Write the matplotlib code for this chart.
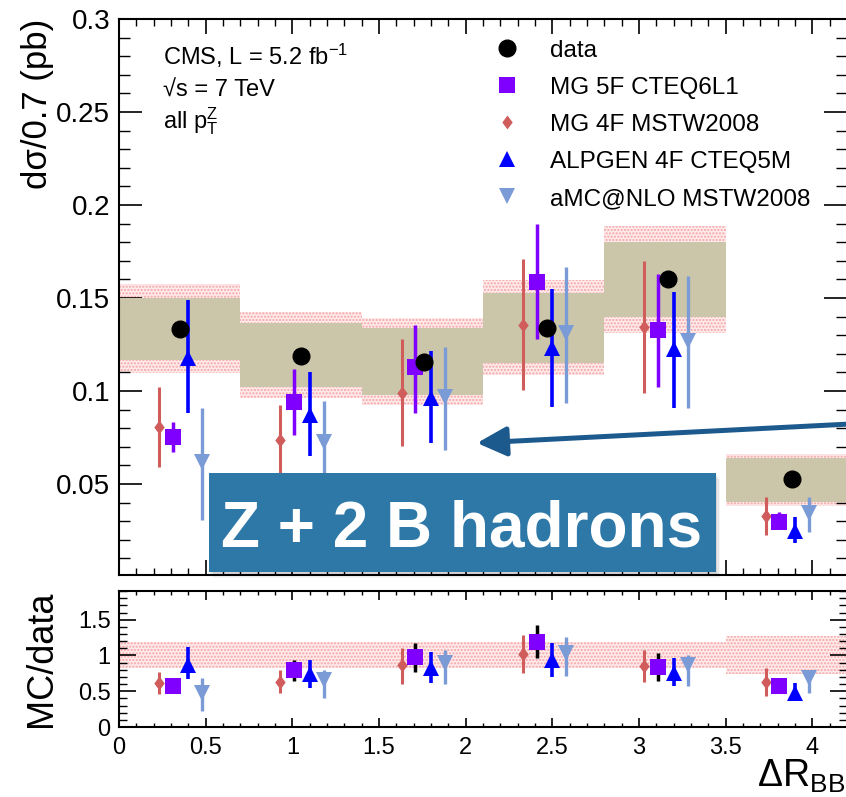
import numpy as np
import matplotlib.pyplot as plt
from matplotlib.lines import Line2D
from matplotlib.patches import Rectangle, FancyArrowPatch, ArrowStyle
from matplotlib.ticker import MultipleLocator, FuncFormatter

plt.rcParams['font.family'] = ['Liberation Sans', 'DejaVu Sans']
plt.rcParams['mathtext.fontset'] = 'custom'
plt.rcParams['mathtext.rm'] = 'Liberation Sans'
plt.rcParams['mathtext.it'] = 'Liberation Sans:italic'
plt.rcParams['mathtext.bf'] = 'Liberation Sans:bold'

# binning in Delta R_BB (bins of 0.7)
bin_edges = [0.0, 0.7, 1.4, 2.1, 2.8, 3.5, 4.2]

# measured cross section
data_x = [0.35, 1.05, 1.76, 2.47, 3.17, 3.88]
data_y = [0.1333, 0.119, 0.1155, 0.134, 0.160, 0.0527]
# inner (beige) and outer (red dotted) uncertainty bands
inner_lo = [0.1167, 0.1022, 0.098, 0.115, 0.1398, 0.0403]
inner_hi = [0.150, 0.1366, 0.134, 0.1527, 0.180, 0.064]
outer_lo = [0.1097, 0.0962, 0.0925, 0.1086, 0.1312, 0.038]
outer_hi = [0.1575, 0.1425, 0.139, 0.1597, 0.1887, 0.0661]

# predictions: value, lower / upper end of the error bar
mg5f_y = [0.0753, 0.094, 0.113, 0.1586, 0.1328, 0.0296]
mg5f_lo = [0.067, 0.0763, 0.088, 0.128, 0.102, 0.026]
mg5f_hi = [0.0833, 0.1118, 0.1355, 0.1898, 0.163, 0.035]

mg4f_y = [0.0806, 0.0737, 0.099, 0.1355, 0.1344, 0.0328]
mg4f_lo = [0.059, 0.055, 0.0704, 0.1005, 0.099, 0.0226]
mg4f_hi = [0.102, 0.0925, 0.128, 0.171, 0.170, 0.043]

alpgen_y = [0.1177, 0.087, 0.096, 0.123, 0.1226, 0.0247]
alpgen_lo = [0.088, 0.065, 0.072, 0.0914, 0.091, 0.018]
alpgen_hi = [0.149, 0.110, 0.1215, 0.155, 0.153, 0.032]

amc_y = [0.0618, 0.0725, 0.0967, 0.131, 0.127, 0.0344]
amc_lo = [0.0306, 0.050, 0.0683, 0.0935, 0.091, 0.024]
amc_hi = [0.0908, 0.0946, 0.1237, 0.1667, 0.162, 0.043]

# ratio MC/data
ratio_band_lo = [0.82, 0.82, 0.82, 0.82, 0.82, 0.74]
ratio_band_hi = [1.19, 1.19, 1.19, 1.19, 1.19, 1.27]

mg5f_r = [0.577, 0.80, 0.977, 1.19, 0.84, 0.58]
mg5f_r_lo = [0.52, 0.65, 0.77, 0.97, 0.65, 0.54]
mg5f_r_hi = [0.63, 0.94, 1.18, 1.43, 1.03, 0.62]

mg4f_r = [0.615, 0.63, 0.864, 1.02, 0.85, 0.63]
mg4f_r_lo = [0.46, 0.47, 0.605, 0.75, 0.625, 0.44]
mg4f_r_hi = [0.77, 0.79, 1.11, 1.29, 1.07, 0.83]

alpgen_r = [0.87, 0.74, 0.83, 0.94, 0.76, 0.47]
alpgen_r_lo = [0.67, 0.55, 0.62, 0.695, 0.58, 0.37]
alpgen_r_hi = [1.12, 0.93, 1.05, 1.17, 0.97, 0.615]

amc_r = [0.48, 0.66, 0.90, 1.04, 0.87, 0.685]
amc_r_lo = [0.225, 0.41, 0.60, 0.71, 0.57, 0.47]
amc_r_hi = [0.685, 0.80, 1.07, 1.26, 1.01, 0.80]

labels = ['data', 'MG 5F CTEQ6L1', 'MG 4F MSTW2008', 'ALPGEN 4F CTEQ5M', 'aMC@NLO MSTW2008']

# styles
c_data = 'black'
c_mg5f = '#7f00ff'
c_mg4f = '#d05c5c'
c_alpgen = '#0000ff'
c_amc = '#7b9bd6'
c_beige = '#cbc6a9'
diamond = [(0, 1), (0.75, 0), (0, -1), (-0.75, 0), (0, 1)]

edges = np.array(bin_edges)
centers = 0.5 * (edges[:-1] + edges[1:])
widths = np.diff(edges)

fig = plt.figure(figsize=(8.46, 7.97), dpi=100)
ax = fig.add_axes([0.1407, 0.2785, 0.8605, 0.6976])
ax2 = fig.add_axes([0.1407, 0.0878, 0.8605, 0.1706])


def err(y, lo, hi):
    y = np.array(y)
    return [y - np.array(lo), np.array(hi) - y]


# ---- main panel ----
ax.bar(centers, np.array(outer_hi) - np.array(outer_lo), bottom=outer_lo, width=widths,
       facecolor='#feeaea', edgecolor='#f4a4a4', hatch='.....', linewidth=0, zorder=1)
ax.bar(centers, np.array(inner_hi) - np.array(inner_lo), bottom=inner_lo, width=widths,
       color=c_beige, linewidth=0, zorder=2)

series = [
    (mg4f_y, mg4f_lo, mg4f_hi, -0.12, diamond, 10, c_mg4f, 2.2),
    (mg5f_y, mg5f_lo, mg5f_hi, -0.04, 's', 12, c_mg5f, 2.5),
    (alpgen_y, alpgen_lo, alpgen_hi, 0.05, '^', 12, c_alpgen, 2.6),
    (amc_y, amc_lo, amc_hi, 0.13, 'v', 12, c_amc, 2.4),
]
for y, lo, hi, off, mk, ms, col, lw in series:
    ax.errorbar(centers + off, y, yerr=err(y, lo, hi), fmt='none', ecolor=col,
                elinewidth=lw, capsize=0, zorder=3)
    ax.plot(centers + off, y, linestyle='none', marker=mk, ms=ms, color=col,
            markeredgewidth=0, zorder=4)
ax.plot(data_x, data_y, 'o', color=c_data, ms=12, zorder=5)

ax.set_xlim(0, 4.2)
ax.set_ylim(0.001, 0.3)
ax.xaxis.set_major_locator(MultipleLocator(0.5))
ax.xaxis.set_minor_locator(MultipleLocator(0.1))
ax.yaxis.set_major_locator(MultipleLocator(0.05))
ax.yaxis.set_minor_locator(MultipleLocator(0.01))
ax.yaxis.set_major_formatter(FuncFormatter(lambda v, p: '%g' % round(v, 3)))
ax.tick_params(which='both', direction='in', top=True, right=True, labelbottom=False)
ax.tick_params(axis='y', which='major', length=16.5, width=1.2, labelsize=20, pad=6.5)
ax.tick_params(axis='y', which='minor', length=8, width=1)
ax.tick_params(axis='x', which='major', length=11, width=1.2)
ax.tick_params(axis='x', which='minor', length=5, width=1)
for s in ax.spines.values():
    s.set_linewidth(1.5)
ax.set_ylabel('d\u03c3/0.7 (pb)', fontsize=25, loc='top')
ax.yaxis.set_label_coords(-0.0893, 1.0)

ax.text(0.0604, 0.917, 'CMS, L = 5.2 fb$^{-1}$', transform=ax.transAxes, fontsize=17, va='baseline')
ax.text(0.0604, 0.860, '\u221as = 7 TeV', transform=ax.transAxes, fontsize=17, va='baseline')
ax.text(0.0604, 0.804, 'all p$_{\\mathrm{T}}^{\\mathrm{Z}}$', transform=ax.transAxes, fontsize=17, va='baseline')

handles = [
    Line2D([], [], linestyle='none', marker='o', ms=12, color=c_data),
    Line2D([], [], linestyle='none', marker='s', ms=12, color=c_mg5f, markeredgewidth=0),
    Line2D([], [], linestyle='none', marker=diamond, ms=10, color=c_mg4f, markeredgewidth=0),
    Line2D([], [], linestyle='none', marker='^', ms=12, color=c_alpgen, markeredgewidth=0),
    Line2D([], [], linestyle='none', marker='v', ms=12, color=c_amc, markeredgewidth=0),
]
ax.legend(handles, labels, loc='upper left', bbox_to_anchor=(0.516, 0.963), frameon=False,
          fontsize=17.5, handlelength=1.0, handletextpad=1.28, labelspacing=0.62,
          borderaxespad=0, borderpad=0)

# ---- ratio panel ----
ax2.bar(centers, np.array(ratio_band_hi) - np.array(ratio_band_lo), bottom=ratio_band_lo,
        width=widths, facecolor='#feeaea', edgecolor='#f4a4a4', hatch='.....', linewidth=0, zorder=1)
rseries = [
    (mg4f_r, mg4f_r_lo, mg4f_r_hi, -0.12, diamond, 10, c_mg4f, c_mg4f, 2.2),
    (mg5f_r, mg5f_r_lo, mg5f_r_hi, -0.04, 's', 12, c_mg5f, 'black', 2.5),
    (alpgen_r, alpgen_r_lo, alpgen_r_hi, 0.05, '^', 12, c_alpgen, c_alpgen, 2.6),
    (amc_r, amc_r_lo, amc_r_hi, 0.13, 'v', 12, c_amc, c_amc, 2.4),
]
for y, lo, hi, off, mk, ms, col, ecol, lw in rseries:
    ax2.errorbar(centers + off, y, yerr=err(y, lo, hi), fmt='none', ecolor=ecol,
                 elinewidth=lw, capsize=0, zorder=3)
    ax2.plot(centers + off, y, linestyle='none', marker=mk, ms=ms, color=col,
             markeredgewidth=0, zorder=4)

ax2.set_xlim(0, 4.2)
ax2.set_ylim(0, 1.9)
ax2.xaxis.set_major_locator(MultipleLocator(0.5))
ax2.xaxis.set_minor_locator(MultipleLocator(0.1))
ax2.yaxis.set_major_locator(MultipleLocator(0.5))
ax2.yaxis.set_minor_locator(MultipleLocator(0.1))
fmt = FuncFormatter(lambda v, p: '%g' % round(v, 2))
ax2.xaxis.set_major_formatter(fmt)
ax2.yaxis.set_major_formatter(fmt)
ax2.tick_params(which='both', direction='in', top=True, right=True, labelsize=17)
ax2.tick_params(axis='y', which='major', length=12, width=1.2, pad=6)
ax2.tick_params(axis='y', which='minor', length=6, width=1)
ax2.tick_params(axis='x', which='major', length=6.5, width=1.2, pad=7)
ax2.tick_params(axis='x', which='minor', length=3, width=1)
for s in ax2.spines.values():
    s.set_linewidth(1.5)
ax2.set_ylabel('MC/data', fontsize=26)
ax2.yaxis.set_label_coords(-0.082, 0.5)
fig.text(0.999, 0.0125, '$\\Delta\\mathrm{R}_{\\mathrm{BB}}$', fontsize=27, ha='right', va='baseline')

# ---- overlay: label box and arrow ----
for k, a in enumerate([0.08, 0.06, 0.04]):
    d = (k + 1) * 0.0025
    fig.add_artist(Rectangle((0.247 + d * 0.6, 0.2823 - d), 0.5993, 0.1242,
                             transform=fig.transFigure, facecolor='black', alpha=a,
                             linewidth=0, zorder=9))
fig.add_artist(Rectangle((0.247, 0.2823), 0.5993, 0.1242, transform=fig.transFigure,
                         facecolor='#2e78a8', linewidth=0, zorder=10))
fig.text(0.545, 0.3137, 'Z + 2 B hadrons', fontsize=46, fontweight='bold', color='white',
         ha='center', va='baseline', zorder=11)
fig.add_artist(FancyArrowPatch((1.005, 1 - 424 / 797), (477 / 846, 1 - 443 / 797),
                               transform=fig.transFigure,
                               arrowstyle=ArrowStyle('-|>', head_length=1.8, head_width=0.9),
                               mutation_scale=10, color='#1c5a8e', linewidth=3.6,
                               shrinkA=0, shrinkB=0, zorder=10))

fig.savefig('out.png', dpi=100)
